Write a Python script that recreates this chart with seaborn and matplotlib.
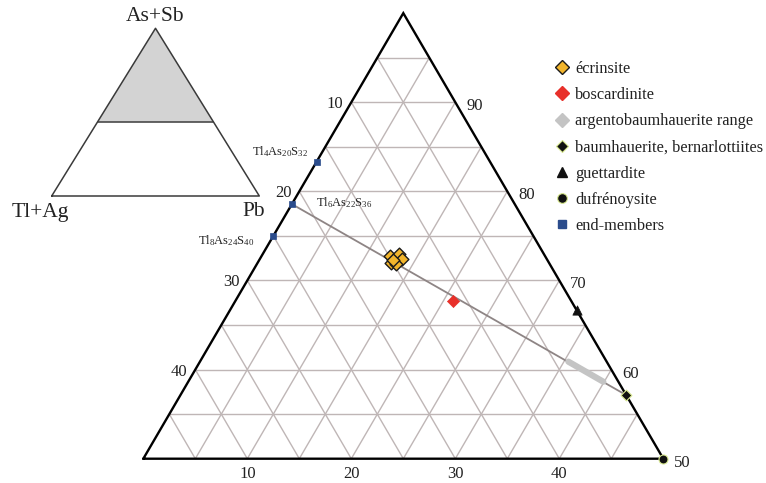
import numpy as np
import pandas as pd
import matplotlib
matplotlib.use("Agg")
import matplotlib.pyplot as plt
from matplotlib.lines import Line2D
import seaborn as sns

# Compositions in atomic % of the cation groups (Tl+Ag), Pb and (As+Sb)
ecrinsite_tlag = [14.9, 13.9, 13.9, 15.2, 14.8, 14.8]
ecrinsite_pb = [12.35, 13.1, 13.7, 12.85, 13.4, 12.85]
boscardinite_tlag = [11.4]
boscardinite_pb = [20.9]
argento_range_tlag = [3.68, 1.45]
argento_range_pb = [35.43, 39.91]
baumhauerite_tlag = [0.0]
baumhauerite_pb = [42.86]
guettardite_tlag = [0.0]
guettardite_pb = [33.33]
dufrenoysite_tlag = [0.0]
dufrenoysite_pb = [50.0]
endmember_names = [r"Tl$_4$As$_{20}$S$_{32}$", r"Tl$_6$As$_{22}$S$_{36}$", r"Tl$_8$As$_{24}$S$_{40}$"]
endmember_tlag = [16.67, 21.43, 25.0]
endmember_pb = [0.0, 0.0, 0.0]

bottom_ticks = [10, 20, 30, 40]          # Pb
left_ticks = [10, 20, 30, 40]            # Tl+Ag
right_ticks = [90, 80, 70, 60, 50]       # As+Sb
grid_step = 5
as_min = 50

legend_labels = ["écrinsite", "boscardinite", "argentobaumhauerite range",
                 "baumhauerite, bernarlottiites", "guettardite", "dufrénoysite", "end-members"]

SQ3 = np.sqrt(3) / 2


def to_xy(tlag, pb):
    tlag = np.asarray(tlag, float)
    pb = np.asarray(pb, float)
    asb = 100 - tlag - pb
    return pb + asb / 2, asb * SQ3


def frame(tlag, pb):
    x, y = to_xy(tlag, pb)
    return pd.DataFrame({"x": x, "y": y})


sns.set_theme(style="white")
plt.rcParams["font.family"] = ["Liberation Serif", "DejaVu Serif"]
plt.rcParams["mathtext.default"] = "regular"

fig = plt.figure(figsize=(7.66, 4.83), dpi=100)
ax = fig.add_axes([0, 0, 1, 1])
ax.set_xlim(11.22, 84.875)
ax.set_ylim(40.94, 87.88)
ax.axis("off")

px = 0.72  # points per pixel

# triangular grid
grid_kw = dict(color="#bfb6b6", lw=1.0, zorder=1)
for v in range(grid_step, 100 - as_min, grid_step):
    # constant Tl+Ag
    x, y = to_xy([v, v], [100 - as_min - v, 0])
    ax.plot(x, y, **grid_kw)
    # constant Pb
    x, y = to_xy([100 - as_min - v, 0], [v, v])
    ax.plot(x, y, **grid_kw)
for a in range(as_min + grid_step, 100, grid_step):
    x, y = to_xy([100 - a, 0], [0, 100 - a])
    ax.plot(x, y, **grid_kw)

# outer frame
x, y = to_xy([100 - as_min, 0, 0, 100 - as_min], [0, 0, 100 - as_min, 0])
ax.plot(x, y, color="black", lw=1.7, zorder=5, solid_joinstyle="miter")

# tick labels
tick_kw = dict(textcoords="offset points", fontsize=12, color="#222222")
for v in bottom_ticks:
    x, y = to_xy([100 - as_min - v], [v])
    ax.annotate(str(v), (x[0], y[0]), xytext=(0, -15.5 * px), ha="center", va="center", **tick_kw)
for v in left_ticks:
    x, y = to_xy([v], [0])
    ax.annotate(str(v), (x[0], y[0]), xytext=(-8 * px, -2 * px), ha="right", va="center", **tick_kw)
for v in right_ticks:
    x, y = to_xy([0], [100 - v])
    ax.annotate(str(v), (x[0], y[0]), xytext=(11 * px, -4 * px), ha="left", va="center", **tick_kw)

# tie line between the Tl end-member and baumhauerite
tie = frame([endmember_tlag[1], baumhauerite_tlag[0]], [endmember_pb[1], baumhauerite_pb[0]])
sns.lineplot(data=tie, x="x", y="y", color="#8e8585", lw=1.3, ax=ax, zorder=3, sort=False)

# argentobaumhauerite compositional range
sns.lineplot(data=frame(argento_range_tlag, argento_range_pb), x="x", y="y",
             color="#c4c4c4", lw=4.5, ax=ax, zorder=3, sort=False, solid_capstyle="round")

# minerals
sns.scatterplot(data=frame(ecrinsite_tlag, ecrinsite_pb), x="x", y="y", marker="D", s=42,
                color="#f2b52c", edgecolor="#1a1a1a", linewidth=1.0, ax=ax, zorder=6, legend=False)
sns.scatterplot(data=frame(boscardinite_tlag, boscardinite_pb), x="x", y="y", marker="D", s=38,
                color="#e8302a", edgecolor="#e8302a", linewidth=0.5, ax=ax, zorder=6, legend=False)
sns.scatterplot(data=frame(baumhauerite_tlag, baumhauerite_pb), x="x", y="y", marker="D", s=30,
                color="#111111", edgecolor="#d8e890", linewidth=0.8, ax=ax, zorder=7, legend=False)
sns.scatterplot(data=frame(guettardite_tlag, guettardite_pb), x="x", y="y", marker="^", s=45,
                color="#111111", edgecolor="#111111", linewidth=0.5, ax=ax, zorder=7, legend=False)
sns.scatterplot(data=frame(dufrenoysite_tlag, dufrenoysite_pb), x="x", y="y", marker="o", s=42,
                color="#111111", edgecolor="#d8e890", linewidth=0.8, ax=ax, zorder=7, legend=False)
em = frame(endmember_tlag, endmember_pb)
sns.scatterplot(data=em, x="x", y="y", marker="s", s=20,
                color="#2b4c8c", edgecolor="#2b4c8c", linewidth=0.5, ax=ax, zorder=7, legend=False)

# end-member labels
em_offsets = [(-8, 10, "right"), (24, 2, "left"), (-19, -5, "right")]
for name, (xv, yv), (dx, dy, ha) in zip(endmember_names, em[["x", "y"]].to_numpy(), em_offsets):
    ax.annotate(name, (xv, yv), xytext=(dx * px, dy * px), textcoords="offset points",
                ha=ha, va="center", fontsize=9, color="#222222")

# legend
handles = [
    Line2D([], [], ls="none", marker="D", ms=7, mfc="#f2b52c", mec="#1a1a1a", mew=1.0),
    Line2D([], [], ls="none", marker="D", ms=7, mfc="#e8302a", mec="#e8302a"),
    Line2D([], [], ls="none", marker="D", ms=7, mfc="#c4c4c4", mec="#c4c4c4"),
    Line2D([], [], ls="none", marker="D", ms=6, mfc="#111111", mec="#d8e890", mew=0.8),
    Line2D([], [], ls="none", marker="^", ms=7.5, mfc="#111111", mec="#111111"),
    Line2D([], [], ls="none", marker="o", ms=7, mfc="#111111", mec="#d8e890", mew=0.8),
    Line2D([], [], ls="none", marker="s", ms=5.5, mfc="#2b4c8c", mec="#2b4c8c"),
]
fig.legend(handles, legend_labels, loc="upper left", bbox_to_anchor=(554 / 766, 1 - 61 / 483),
           frameon=False, fontsize=11.8, handlelength=1.0, handletextpad=0.28,
           labelspacing=0.62, borderpad=0, borderaxespad=0, labelcolor="#222222")

# overview triangle
iax = fig.add_axes([51.7 / 766, (483 - 196) / 483, (259.3 - 51.7) / 766, (196 - 28.3) / 483])
iax.set_xlim(0, 100)
iax.set_ylim(0, 100)
iax.axis("off")
cut = 44.3
iax.fill([cut / 2, 50, 100 - cut / 2], [cut, 100, cut], color="#d3d3d3", lw=0, zorder=1)
iax.plot([0, 50, 100, 0], [0, 100, 0, 0], color="#3a3a3a", lw=1.1, zorder=2, clip_on=False)
iax.plot([cut / 2, 100 - cut / 2], [cut, cut], color="#3a3a3a", lw=1.1, zorder=2)
corner_kw = dict(textcoords="offset points", fontsize=15.5, color="#222222", va="center")
iax.annotate("As+Sb", (50, 100), xytext=(-0.5 * px, 11.6 * px), ha="center", **corner_kw)
iax.annotate("Tl+Ag", (0, 0), xytext=(-11 * px, -16 * px), ha="center", **corner_kw)
iax.annotate("Pb", (100, 0), xytext=(-6 * px, -16 * px), ha="center", **corner_kw)

fig.savefig("out.png", dpi=100)
